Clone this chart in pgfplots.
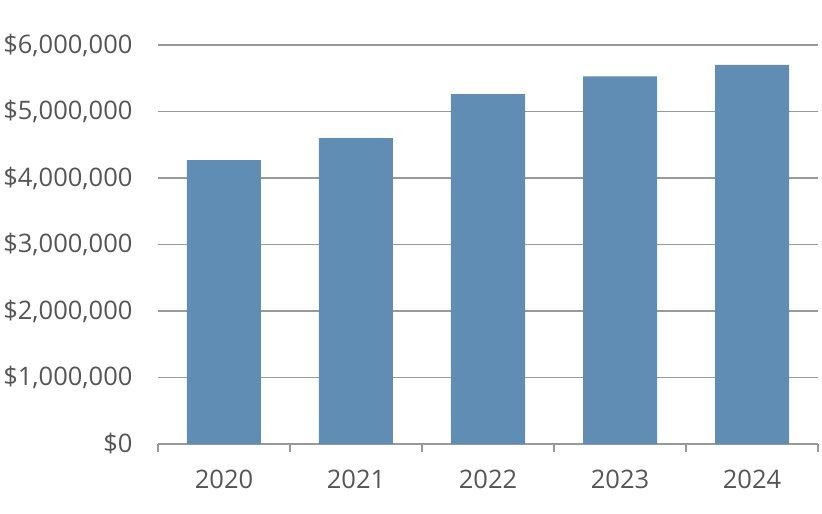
\documentclass[border=0pt]{standalone}
\usepackage{pgfplots}
\pgfplotsset{compat=1.18}
\usepackage{fontspec}
\setmainfont{Open Sans}
\definecolor{barblue}{HTML}{5F8DB4}
\definecolor{gridgray}{HTML}{999999}
\definecolor{txtgray}{HTML}{555555}
\begin{document}
\begin{tikzpicture}
\useasboundingbox (-158pt,-70pt) rectangle (664pt,444pt);
\begin{axis}[
  at={(0,0)}, anchor=south west,
  scale only axis, width=660pt, height=399pt,
  xmin=-0.5, xmax=4.5, ymin=0, ymax=6000000,
  axis x line=bottom, axis y line=left,
  x axis line style={draw=gridgray, line width=1.2pt, -},
  y axis line style={draw=none},
  major tick length=0pt,
  tick align=outside,
  xtick={0,1,2,3,4},
  xticklabels={2020,2021,2022,2023,2024},
  xtick style={draw=gridgray, line width=1.2pt},
  extra x ticks={-0.5,0.5,1.5,2.5,3.5,4.5},
  extra x tick labels={},
  extra x tick style={major tick length=8pt, tick align=outside, grid=none},
  ytick={0,1000000,2000000,3000000,4000000,5000000,6000000},
  yticklabels={\$0,{\$1,000,000},{\$2,000,000},{\$3,000,000},{\$4,000,000},{\$5,000,000},{\$6,000,000}},
  ytick style={draw=none},
  ymajorgrids,
  grid style={draw=gridgray, line width=1.2pt},
  tick label style={font=\fontsize{25.5}{30}\selectfont, text=txtgray},
  xticklabel style={yshift=-22pt},
  yticklabel style={xshift=-22pt},
  scaled y ticks=false,
  clip=false,
]
\addplot[ybar, bar width=74pt, fill=barblue, draw=none] coordinates {
  (0,4270000) (1,4600000) (2,5260000) (3,5530000) (4,5700000)
};
\end{axis}
\end{tikzpicture}
\end{document}
